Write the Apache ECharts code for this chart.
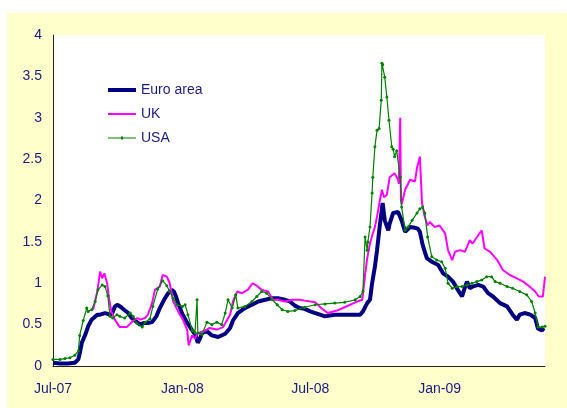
<!DOCTYPE html>
<html>
<head>
<meta charset="utf-8">
<script src="https://cdn.jsdelivr.net/npm/echarts@6/dist/echarts.min.js"></script>
<style>
  html, body { margin: 0; padding: 0; background: #ffffff; }
  #frame { position: absolute; left: 7px; top: 13px; width: 560px; height: 395px; background: #FFFFCC; }
  #chart { width: 560px; height: 395px; }
</style>
</head>
<body>
<div id="frame"><div id="chart"></div></div>
<script>
// x values: days since 1 July 2007
const xTickDays = [0, 184, 366, 550];
const xTickLabels = ['Jul-07', 'Jan-08', 'Jul-08', 'Jan-09'];
const seriesNames = ['Euro area', 'UK', 'USA'];

const euroPoints = [
  [0,0.04],[10,0.03],[21,0.03],[31,0.04],[36,0.08],[38,0.15],[41,0.28],[46,0.38],[50,0.48],[55,0.56],
  [63,0.62],[67,0.62],[74,0.64],[81,0.62],[84,0.63],[88,0.72],[92,0.74],[97,0.71],[101,0.68],[107,0.64],
  [112,0.58],[118,0.54],[124,0.5],[129,0.52],[135,0.52],[141,0.53],[147,0.6],[152,0.7],[158,0.8],[164,0.88],
  [169,0.92],[172,0.9],[175,0.84],[178,0.76],[184,0.63],[191,0.52],[198,0.43],[203,0.37],[206,0.28],[209,0.33],
  [212,0.4],[219,0.42],[226,0.37],[235,0.35],[245,0.39],[252,0.46],[256,0.55],[263,0.64],[273,0.7],[283,0.74],
  [292,0.78],[302,0.8],[312,0.82],[320,0.82],[330,0.8],[337,0.78],[344,0.73],[351,0.7],[358,0.69],[366,0.66],
  [373,0.64],[380,0.62],[387,0.6],[394,0.61],[401,0.62],[408,0.62],[415,0.62],[422,0.62],[430,0.62],[437,0.62],
  [441,0.66],[447,0.76],[451,0.8],[454,1.0],[458,1.2],[461,1.4],[465,1.7],[469,1.97],[472,1.76],[477,1.64],
  [479,1.72],[484,1.85],[491,1.86],[496,1.76],[501,1.62],[508,1.68],[515,1.67],[519,1.66],[522,1.62],[526,1.46],
  [532,1.3],[539,1.26],[548,1.22],[555,1.12],[562,1.08],[569,1.02],[576,0.92],[582,0.84],[586,0.95],[589,1.02],
  [593,0.94],[597,0.96],[605,0.98],[612,0.96],[619,0.88],[626,0.84],[636,0.76],[646,0.72],[654,0.62],[660,0.56],
  [664,0.62],[671,0.64],[679,0.62],[686,0.58],[690,0.45],[696,0.43],[698,0.46]
];

const ukPoints = [
  [57,0.68],[63,0.9],[67,1.14],[70,1.06],[73,1.12],[77,1.0],[80,0.8],[83,0.66],[88,0.56],[95,0.47],
  [105,0.47],[112,0.53],[120,0.58],[124,0.56],[131,0.58],[135,0.62],[141,0.76],[145,0.92],[152,0.96],[156,1.1],
  [162,1.08],[166,1.0],[171,0.78],[178,0.66],[185,0.56],[191,0.43],[193,0.25],[198,0.37],[202,0.33],[206,0.4],
  [213,0.41],[223,0.46],[233,0.44],[242,0.47],[252,0.62],[256,0.78],[262,0.9],[269,0.88],[277,0.92],[284,1.0],
  [290,0.97],[297,0.92],[306,0.9],[313,0.8],[320,0.8],[330,0.78],[341,0.8],[351,0.8],[358,0.79],[373,0.77],
  [383,0.69],[391,0.64],[404,0.67],[415,0.71],[430,0.77],[440,0.8],[444,1.1],[447,1.3],[451,1.48],[455,1.6],
  [458,1.68],[462,1.85],[465,2.0],[468,2.13],[471,2.04],[475,2.07],[479,2.28],[486,2.33],[491,2.25],[492,2.2],
  [494,3.0],[495,2.0],[496,1.95],[501,2.13],[508,2.25],[515,2.23],[518,2.4],[522,2.53],[525,1.97],[529,1.8],
  [533,1.7],[536,1.74],[543,1.68],[550,1.7],[558,1.6],[562,1.4],[568,1.28],[572,1.38],[579,1.4],[586,1.38],
  [593,1.52],[597,1.48],[605,1.58],[610,1.64],[614,1.42],[622,1.38],[632,1.28],[640,1.16],[650,1.1],[660,1.06],
  [669,1.02],[678,0.96],[686,0.9],[691,0.84],[697,0.84],[698,0.85],[700,1.08]
];

const usaPoints = [
  [0,0.08],[10,0.08],[17,0.09],[24,0.1],[31,0.13],[36,0.18],[38,0.37],[43,0.55],[48,0.7],[50,0.66],
  [55,0.68],[60,0.78],[64,0.92],[70,0.98],[74,0.96],[78,0.85],[81,0.6],[85,0.58],[91,0.62],[95,0.6],
  [102,0.58],[110,0.64],[114,0.6],[119,0.52],[127,0.47],[131,0.53],[138,0.57],[142,0.72],[149,0.93],[156,1.03],
  [162,0.97],[166,0.9],[171,0.82],[176,0.74],[184,0.72],[188,0.74],[192,0.62],[198,0.43],[202,0.4],[205,0.8],
  [206,0.4],[212,0.38],[219,0.53],[226,0.5],[233,0.53],[240,0.5],[245,0.64],[249,0.8],[255,0.7],[260,0.86],
  [263,0.7],[273,0.72],[283,0.78],[290,0.84],[297,0.9],[304,0.88],[312,0.8],[319,0.74],[326,0.68],[334,0.66],
  [344,0.67],[358,0.71],[373,0.74],[387,0.75],[401,0.76],[415,0.77],[430,0.8],[437,0.84],[441,0.9],[444,1.56],
  [447,1.4],[448,1.5],[451,1.68],[454,2.09],[455,2.28],[458,2.65],[461,2.85],[464,2.87],[467,3.21],[468,3.66],
  [469,3.64],[472,3.49],[475,3.25],[478,2.97],[482,2.65],[484,2.62],[486,2.53],[489,2.6],[494,2.28],[496,1.92],
  [501,1.64],[505,1.68],[511,1.76],[518,1.85],[522,1.9],[526,1.92],[529,1.85],[533,1.56],[539,1.32],[546,1.28],
  [553,1.26],[558,1.18],[562,1.0],[568,0.94],[575,0.96],[582,0.96],[589,0.98],[596,1.0],[603,1.02],[610,1.04],
  [617,1.08],[624,1.08],[629,1.02],[636,1.0],[646,0.96],[654,0.94],[664,0.9],[674,0.86],[681,0.78],[686,0.64],
  [690,0.47],[696,0.47],[700,0.48]
];

const textColor = '#1A1A80';
const fontFam = 'Liberation Sans, Arial, sans-serif';
const chart = echarts.init(document.getElementById('chart'), null, { renderer: 'canvas' });
chart.setOption({
  animation: false,
  backgroundColor: 'transparent',
  grid: { left: 46, top: 22, right: 22, bottom: 42, show: true, backgroundColor: '#FFFFFF', borderWidth: 0 },
  legend: {
    orient: 'vertical', left: 96, top: 65,
    itemWidth: 28, itemHeight: 14, itemGap: 10,
    symbolKeepAspect: true,
    textStyle: { color: textColor, fontSize: 14, fontFamily: fontFam },
    data: [
      { name: seriesNames[0], icon: 'path://M0,0h28v4h-28z' },
      { name: seriesNames[1], icon: 'path://M0,0h28v2h-28z' },
      { name: seriesNames[2], icon: 'path://M0,1h28v1h-28z M13,0h2v3h-2z' }
    ]
  },
  xAxis: {
    type: 'value', min: 0, max: 700,
    axisLine: { show: true, lineStyle: { color: '#222222', width: 1 } },
    axisTick: { show: false },
    splitLine: { show: false },
    axisLabel: {
      customValues: xTickDays,
      margin: 16,
      color: textColor, fontSize: 14, fontFamily: fontFam,
      formatter: function (v) { const i = xTickDays.indexOf(v); return i >= 0 ? xTickLabels[i] : ''; }
    }
  },
  yAxis: {
    type: 'value', min: 0, max: 4, interval: 0.5,
    axisLine: { show: true, lineStyle: { color: '#222222', width: 1 } },
    axisTick: { show: false },
    splitLine: { show: false },
    axisLabel: { margin: 11, color: textColor, fontSize: 14, fontFamily: fontFam }
  },
  series: [
    { name: seriesNames[0], type: 'line', data: euroPoints, symbol: 'none',
      lineStyle: { color: '#000080', width: 4 }, itemStyle: { color: '#000080' } },
    { name: seriesNames[1], type: 'line', data: ukPoints, symbol: 'none',
      lineStyle: { color: '#FF00FF', width: 2 }, itemStyle: { color: '#FF00FF' } },
    { name: seriesNames[2], type: 'line', data: usaPoints, symbol: 'circle', symbolSize: 3, showSymbol: true,
      lineStyle: { color: '#008000', width: 1.2 }, itemStyle: { color: '#008000' } }
  ]
});
</script>
</body>
</html>
